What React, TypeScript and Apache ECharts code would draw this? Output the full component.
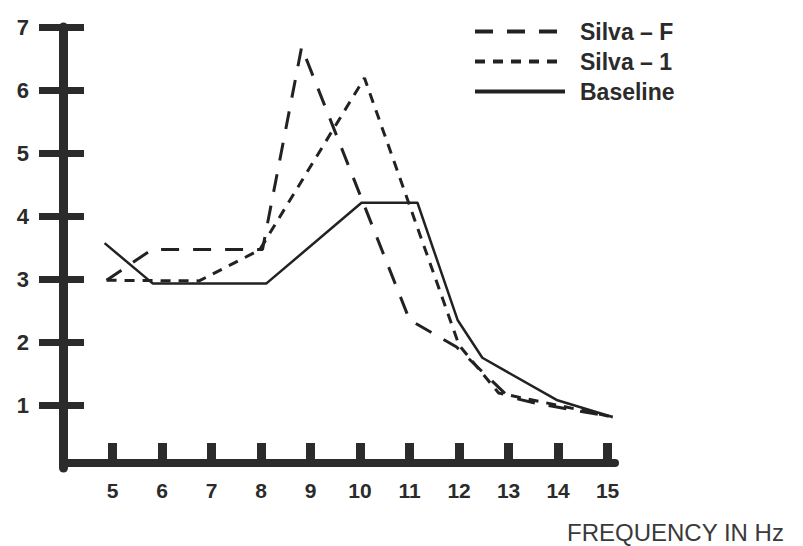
import React, { useEffect, useRef } from "react";
import * as echarts from "echarts";

const frequencyTicks = [5, 6, 7, 8, 9, 10, 11, 12, 13, 14, 15];
const valueTicks = [1, 2, 3, 4, 5, 6, 7];

const seriesNames = ["Silva – F", "Silva – 1", "Baseline"];

const silvaFX = [4.88, 5.8, 8.03, 8.82, 11.0, 11.95, 13.0, 13.6, 15.1];
const silvaFY = [2.98, 3.47, 3.47, 6.68, 2.35, 1.92, 1.13, 1.02, 0.81];

const silva1X = [4.88, 6.75, 7.97, 10.09, 12.0, 12.8, 13.97, 15.1];
const silva1Y = [2.98, 2.97, 3.46, 6.19, 1.95, 1.19, 1.0, 0.81];

const baselineX = [4.84, 5.81, 8.11, 10.03, 11.16, 11.97, 12.47, 13.97, 15.1];
const baselineY = [3.57, 2.93, 2.93, 4.21, 4.21, 2.35, 1.75, 1.08, 0.81];

const xAxisTitle = "FREQUENCY IN Hz";

const zip = (xs: number[], ys: number[]) => xs.map((x, i) => [x, ys[i]]);

const INK = "#2b2b2b";
const FONT = "'Liberation Sans', Arial, Helvetica, sans-serif";

export default function App() {
  const ref = useRef<HTMLDivElement>(null);

  useEffect(() => {
    if (!ref.current) return;
    const chart = echarts.init(ref.current, undefined, { renderer: "svg" });
    const lineBase = { type: "line", symbol: "none", showSymbol: false, silent: true, color: "#222" };
    chart.setOption({
      animation: false,
      backgroundColor: "#ffffff",
      title: {
        text: xAxisTitle,
        left: 562,
        top: 515,
        textStyle: { fontFamily: FONT, fontSize: 24, fontWeight: "normal", color: "#3a3a3a" },
      },
      legend: {
        data: seriesNames,
        orient: "vertical",
        left: 468,
        top: 15,
        itemWidth: 90,
        itemHeight: 14,
        itemGap: 7,
        selectedMode: false,
        itemStyle: { color: "transparent", borderWidth: 0, opacity: 0 },
        lineStyle: { width: 4, color: "#222" },
        textStyle: {
          fontFamily: FONT,
          fontSize: 23,
          fontWeight: "bold",
          color: INK,
          padding: [0, 0, 0, 10],
        },
      },
      grid: { left: 63, right: 188, top: 27, bottom: 78, containLabel: false },
      xAxis: {
        type: "value",
        min: 4,
        max: 15.15,
        offset: -5,
        axisLine: { show: true, lineStyle: { color: INK, width: 8 } },
        axisTick: {
          show: true,
          inside: true,
          length: 20,
          customValues: frequencyTicks,
          lineStyle: { color: INK, width: 9 },
        },
        axisLabel: {
          customValues: frequencyTicks,
          margin: 17,
          fontFamily: FONT,
          fontSize: 21,
          fontWeight: "bold",
          color: INK,
        },
        splitLine: { show: false },
      },
      yAxis: [
        {
          type: "value",
          min: 0,
          max: 7,
          axisLine: { show: true, lineStyle: { color: INK, width: 9 } },
          axisTick: {
            show: true,
            inside: false,
            length: 24,
            customValues: valueTicks,
            lineStyle: { color: INK, width: 7 },
          },
          axisLabel: {
            customValues: valueTicks,
            margin: 34,
            fontFamily: FONT,
            fontSize: 22,
            fontWeight: "bold",
            color: INK,
          },
          splitLine: { show: false },
        },
        {
          type: "value",
          min: 0,
          max: 7,
          position: "left",
          axisLine: { show: false },
          axisTick: {
            show: true,
            inside: true,
            length: 21,
            customValues: valueTicks,
            lineStyle: { color: INK, width: 7 },
          },
          axisLabel: { show: false },
          splitLine: { show: false },
        },
      ],
      series: [
        {
          ...lineBase,
          name: seriesNames[0],
          data: zip(silvaFX, silvaFY),
          lineStyle: { color: "#222", width: 3, type: [18, 14] },
        },
        {
          ...lineBase,
          name: seriesNames[1],
          data: zip(silva1X, silva1Y),
          lineStyle: { color: "#222", width: 3, type: [10, 8] },
        },
        {
          ...lineBase,
          name: seriesNames[2],
          data: zip(baselineX, baselineY),
          lineStyle: { color: "#222", width: 2.5, type: "solid" },
        },
      ],
    });
    return () => chart.dispose();
  }, []);

  return (
    <div
      ref={ref}
      style={{ position: "fixed", left: 0, top: 0, width: 803, height: 546, background: "#fff" }}
    />
  );
}
